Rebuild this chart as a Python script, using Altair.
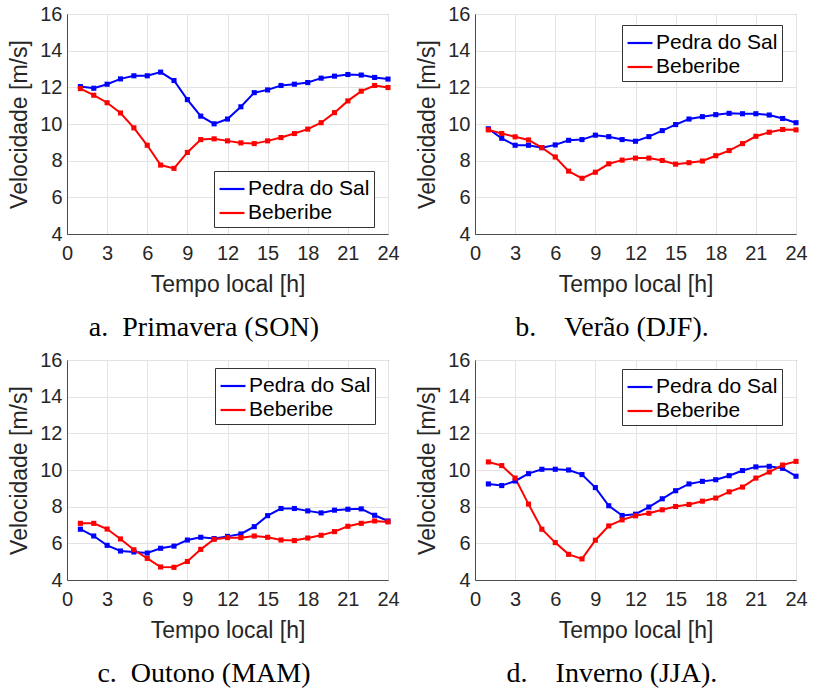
import altair as alt
import pandas as pd

hours = list(range(1, 25))
series_names = ["Pedra do Sal", "Beberibe"]
series_colors = ["#0000ff", "#ff0000"]

# a. Primavera (SON)
a_pedra = [12.04, 11.95, 12.17, 12.46, 12.63, 12.63, 12.83, 12.37, 11.33, 10.43, 10.01, 10.27,
           10.94, 11.71, 11.86, 12.10, 12.17, 12.26, 12.50, 12.61, 12.70, 12.67, 12.54, 12.45]
a_beberibe = [11.93, 11.57, 11.16, 10.60, 9.79, 8.84, 7.76, 7.58, 8.45, 9.15, 9.19, 9.08,
              8.97, 8.93, 9.08, 9.26, 9.48, 9.72, 10.07, 10.62, 11.26, 11.79, 12.10, 11.99]
# b. Verão (DJF)
b_pedra = [9.74, 9.22, 8.84, 8.84, 8.71, 8.86, 9.11, 9.15, 9.39, 9.31, 9.15, 9.06,
           9.31, 9.64, 9.97, 10.27, 10.40, 10.51, 10.58, 10.56, 10.56, 10.49, 10.30, 10.07]
b_beberibe = [9.68, 9.48, 9.30, 9.13, 8.71, 8.20, 7.43, 7.04, 7.37, 7.83, 8.03, 8.14,
              8.14, 8.01, 7.81, 7.89, 7.98, 8.27, 8.55, 8.93, 9.33, 9.55, 9.70, 9.68]
# c. Outono (MAM)
c_pedra = [6.77, 6.40, 5.89, 5.58, 5.53, 5.47, 5.73, 5.85, 6.18, 6.33, 6.26, 6.38,
           6.51, 6.91, 7.51, 7.90, 7.90, 7.77, 7.66, 7.81, 7.86, 7.88, 7.53, 7.22]
c_beberibe = [7.09, 7.09, 6.78, 6.24, 5.65, 5.18, 4.71, 4.69, 5.01, 5.67, 6.22, 6.31,
              6.31, 6.40, 6.33, 6.18, 6.15, 6.29, 6.44, 6.64, 6.93, 7.09, 7.22, 7.17]
# d. Inverno (JJA)
d_pedra = [9.24, 9.15, 9.40, 9.80, 10.04, 10.04, 10.00, 9.75, 9.04, 8.05, 7.52, 7.59,
           7.98, 8.43, 8.87, 9.24, 9.38, 9.47, 9.69, 9.97, 10.17, 10.20, 10.09, 9.66]
d_beberibe = [10.44, 10.24, 9.56, 8.14, 6.77, 6.04, 5.40, 5.15, 6.17, 6.95, 7.28, 7.50,
              7.64, 7.83, 8.01, 8.12, 8.30, 8.47, 8.81, 9.07, 9.56, 9.89, 10.27, 10.47]

x_ticks = [0, 3, 6, 9, 12, 15, 18, 21, 24]
y_ticks = [4, 6, 8, 10, 12, 14, 16]
NB = "\u00a0"
captions = [
    "a." + NB * 2 + "Primavera (SON)",
    "b." + NB * 4 + "Verão (DJF).",
    "c." + NB * 2 + "Outono (MAM)",
    "d." + NB * 4 + "Inverno (JJA).",
]


def panel(pedra, beberibe, caption, lx, ly):
    df = pd.DataFrame({
        "hora": hours * 2,
        "vel": pedra + beberibe,
        "serie": [series_names[0]] * 24 + [series_names[1]] * 24,
    })
    color = alt.Color(
        "serie:N",
        scale=alt.Scale(domain=series_names, range=series_colors),
        legend=alt.Legend(
            title=None, orient="none", legendX=lx, legendY=ly,
            symbolType="stroke", symbolSize=620, symbolStrokeWidth=2.2,
            labelFont="Liberation Sans", labelFontSize=21, labelColor="black",
            strokeColor="#333333", fillColor="white", padding=4,
            rowPadding=0, labelOffset=2, labelLimit=300,
        ),
    )
    base = alt.Chart(df).encode(
        x=alt.X("hora:Q", scale=alt.Scale(domain=[0, 24], nice=False),
                axis=alt.Axis(values=x_ticks, title="Tempo local [h]",
                              labelPadding=9, titlePadding=10, labelFlush=False)),
        y=alt.Y("vel:Q", scale=alt.Scale(domain=[4, 16], nice=False),
                axis=alt.Axis(values=y_ticks, title="Velocidade [m/s]",
                              labelPadding=5, titlePadding=8, labelFlush=False)),
        color=color,
    )
    lines = base.mark_line(strokeWidth=2)
    pts = base.mark_square(size=26, opacity=1)
    return alt.layer(lines, pts).properties(
        width=321, height=220,
        title=alt.TitleParams(caption, orient="bottom", font="Liberation Serif",
                              fontSize=28, fontWeight="normal", color="black",
                              anchor="middle", frame="bounds", offset=18),
    )


pa = panel(a_pedra, a_beberibe, captions[0], 147, 157)
pb = panel(b_pedra, b_beberibe, captions[1], 147, 11)
pc = panel(c_pedra, c_beberibe, captions[2], 148, 8)
pd_ = panel(d_pedra, d_beberibe, captions[3], 147, 9)

row1 = alt.hconcat(pa, pb, spacing=16).resolve_legend(color="independent").resolve_scale(color="independent")
row2 = alt.hconcat(pc, pd_, spacing=16).resolve_legend(color="independent").resolve_scale(color="independent")

chart = alt.vconcat(row1, row2, spacing=6).resolve_legend(
    color="independent"
).resolve_scale(color="independent").properties(
    background="white",
    padding={"left": 8, "top": 3, "right": 2, "bottom": 2},
).configure_axis(
    labelFont="Liberation Sans", labelFontSize=20, labelColor="#262626",
    titleFont="Liberation Sans", titleFontSize=23, titleFontWeight="normal",
    titleColor="#262626", gridColor="#e3e3e3", gridWidth=1,
    domainColor="#4d4d4d", ticks=False,
).configure_view(
    stroke="#4d4d4d", strokeWidth=1,
)

chart.save("out.html", embed_options={"renderer": "svg", "actions": False})
